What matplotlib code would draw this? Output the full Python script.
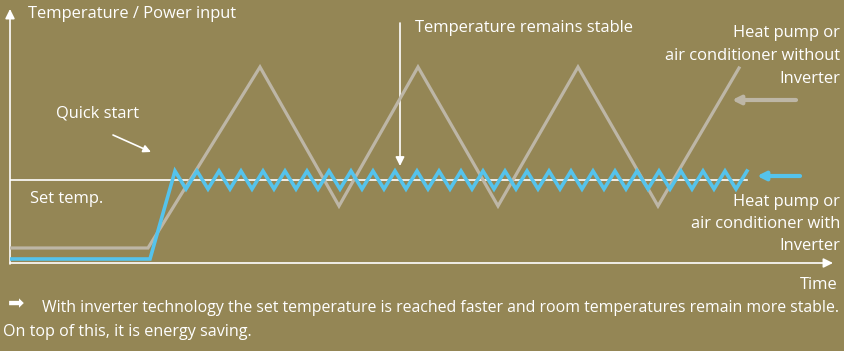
import matplotlib.pyplot as plt

# chart units: time 0..822 along the x axis, temperature 0..254 up the y axis
set_temp = 83

# heat pump without inverter (on/off cycling)
gray_t = [0, 138, 250, 329, 408, 488, 568, 648, 729]
gray_v = [15, 15, 196, 57, 196, 57, 196, 57, 195]

# heat pump with inverter (quick start, then small ripple round the set temp)
blue_t = [0, 140, 165, 176, 187, 198, 209, 220, 231, 242, 253, 264, 275, 286, 297, 308,
          319, 330, 341, 352, 363, 374, 385, 396, 407, 418, 429, 440, 451, 462, 473, 484,
          495, 506, 517, 528, 539, 550, 561, 572, 583, 594, 605, 616, 627, 638, 649, 660,
          671, 682, 693, 704, 715, 726, 737]
blue_v = [4, 4, 92, 74, 92, 74, 92, 74, 92, 74, 92, 74, 92, 74, 92, 74,
          92, 74, 92, 74, 92, 74, 92, 74, 92, 74, 92, 74, 92, 74, 92, 74,
          92, 74, 92, 74, 92, 74, 92, 74, 92, 74, 92, 74, 92, 74, 92, 74,
          92, 74, 92, 74, 92, 74, 92]

bg_col = '#948655'
gray_col = '#bdb6a6'
blue_col = '#55c3ec'
W, H = 844, 351

plt.rcParams['font.family'] = ['Open Sans', 'DejaVu Sans']

fig = plt.figure(figsize=(W / 100, H / 100), dpi=100, facecolor=bg_col)

# overlay in pixel units for the labels and arrows
ov = fig.add_axes([0, 0, 1, 1])
ov.set_xlim(0, W)
ov.set_ylim(H, 0)
ov.axis('off')

# plotting area: y axis at px 10, x axis at px 263
ax = fig.add_axes([10 / W, (H - 263) / H, 822 / W, 254 / H])
ax.set_xlim(0, 822)
ax.set_ylim(0, 254)
ax.axis('off')
ax.patch.set_alpha(0)

ax.plot([0, 737], [set_temp, set_temp], color='white', lw=1.2, zorder=1)
ax.plot(gray_t, gray_v, color=gray_col, lw=2.3, solid_joinstyle='miter', zorder=2)
ax.plot(blue_t, blue_v, color=blue_col, lw=2.6, solid_joinstyle='miter', zorder=3)


def arrow(x0, y0, x1, y1, color='white', lw=1.2, ms=12):
    ov.annotate('', xy=(x1, y1), xytext=(x0, y0),
                arrowprops=dict(arrowstyle='-|>', color=color, lw=lw,
                                mutation_scale=ms, shrinkA=0, shrinkB=0))


# axes
arrow(10, 264, 10, 9, ms=14)
arrow(10, 263, 833, 263, ms=14)

arrow(400, 23, 400, 166, ms=13)
arrow(113, 135, 151, 152, ms=11)
arrow(796, 100, 732, 100, color=gray_col, lw=3, ms=12)
arrow(800, 176, 757, 176, color=blue_col, lw=3, ms=12)

txt = dict(color='white', fontsize=11.9, va='center')
ov.text(28, 14, 'Temperature / Power input', ha='left', **txt)
ov.text(415, 28, 'Temperature remains stable', ha='left', **txt)
ov.text(56, 113, 'Quick start', ha='left', **txt)
ov.text(30, 199, 'Set temp.', ha='left', **txt)
ov.text(840, 33, 'Heat pump or', ha='right', **txt)
ov.text(840, 56, 'air conditioner without', ha='right', **txt)
ov.text(840, 79, 'Inverter', ha='right', **txt)
ov.text(840, 202, 'Heat pump or', ha='right', **txt)
ov.text(840, 224, 'air conditioner with', ha='right', **txt)
ov.text(840, 246, 'Inverter', ha='right', **txt)
ov.text(838, 285, 'Time', ha='right', **txt)

ov.text(8, 304, '➡', ha='left', color='white', fontsize=14, va='center', family=['DejaVu Sans'])
ov.text(42, 308, 'With inverter technology the set temperature is reached faster '
        'and room temperatures remain more stable.', ha='left', color='white',
        fontsize=11.4, va='center')
ov.text(3, 332, 'On top of this, it is energy saving.', ha='left', color='white',
        fontsize=11.6, va='center')

plt.savefig('out.png', dpi=100, facecolor=bg_col)
